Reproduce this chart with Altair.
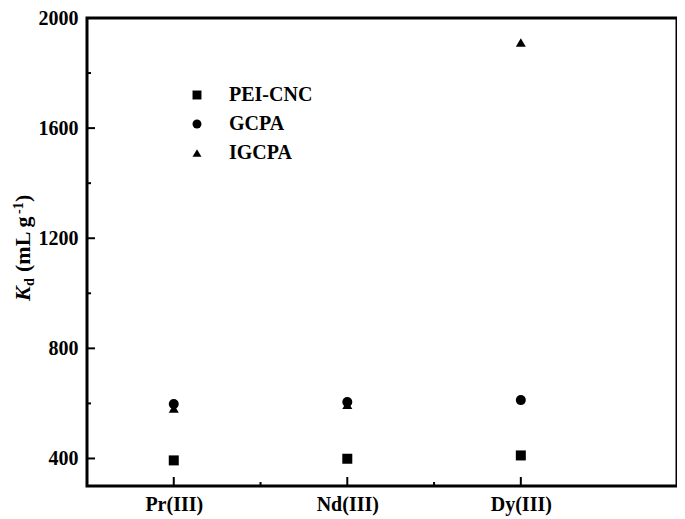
import altair as alt
import pandas as pd

# ---- data ----
elements = ["Pr(III)", "Nd(III)", "Dy(III)"]
positions = [1, 2, 3]
series_names = ["PEI-CNC", "GCPA", "IGCPA"]
pei_cnc = [393, 399, 411]
gcpa = [598, 605, 612]
igcpa = [582, 595, 1911]
y_major = [400, 800, 1200, 1600, 2000]
y_minor = [600, 1000, 1400, 1800]
x_minor = [1.5, 2.5]

rows = []
for name, vals in zip(series_names, [pei_cnc, gcpa, igcpa]):
    for el, p, v in zip(elements, positions, vals):
        rows.append({"element": el, "pos": p, "series": name, "value": v})
df = pd.DataFrame(rows)

W, H = 590, 468
FONT = "Liberation Serif"

label_expr = " : ".join(
    [f"datum.value == {p} ? '{e}'" for p, e in zip(positions[:-1], elements[:-1])]
) + f" : '{elements[-1]}'"

xscale = alt.Scale(domain=[0.5, 3.9], nice=False, zero=False)
yscale = alt.Scale(domain=[300, 2000], nice=False, zero=False)

xaxis = alt.Axis(values=positions, labelExpr=label_expr, ticks=False,
                 domain=False, grid=False, title=None, labelFont=FONT,
                 labelFontSize=20, labelFontWeight="bold",
                 labelColor="black", labelPadding=8, labelAngle=0)
yaxis = alt.Axis(values=y_major, ticks=False, domain=False, grid=False,
                 title=None, labelFont=FONT, labelFontSize=20,
                 labelFontWeight="bold", labelColor="black",
                 labelPadding=9, format="d")

points = alt.Chart(df).mark_point(filled=True, opacity=1, color="black", size=100).encode(
    x=alt.X("pos:Q", scale=xscale, axis=xaxis),
    y=alt.Y("value:Q", scale=yscale, axis=yaxis),
    shape=alt.Shape("series:N",
                    scale=alt.Scale(domain=series_names,
                                    range=["square", "circle", "triangle-up"]),
                    legend=alt.Legend(orient="none", legendX=100, legendY=67,
                                      title=None, labelFont=FONT, labelFontSize=20,
                                      labelFontWeight="bold", labelColor="black",
                                      symbolSize=80, symbolFillColor="black",
                                      symbolStrokeColor="black", symbolStrokeWidth=0,
                                      labelOffset=22, rowPadding=9, padding=0)),
)

ymaj = alt.Chart(pd.DataFrame({"value": y_major})).mark_rule(color="black", strokeWidth=2).encode(
    y=alt.Y("value:Q", scale=yscale, axis=yaxis), x=alt.value(0), x2=alt.value(8))
ymin = alt.Chart(pd.DataFrame({"value": y_minor})).mark_rule(color="black", strokeWidth=2).encode(
    y=alt.Y("value:Q", scale=yscale, axis=yaxis), x=alt.value(0), x2=alt.value(4))
xmaj = alt.Chart(pd.DataFrame({"pos": positions})).mark_rule(color="black", strokeWidth=2).encode(
    x=alt.X("pos:Q", scale=xscale, axis=xaxis), y=alt.value(H), y2=alt.value(H - 9))
xmin = alt.Chart(pd.DataFrame({"pos": x_minor})).mark_rule(color="black", strokeWidth=2).encode(
    x=alt.X("pos:Q", scale=xscale, axis=xaxis), y=alt.value(H), y2=alt.value(H - 4))


def title_piece(text, size, x, y, style="normal"):
    return alt.Chart(pd.DataFrame({"t": [text]})).mark_text(
        font=FONT, fontSize=size, fontWeight="bold", fontStyle=style,
        angle=270, align="left", baseline="alphabetic", color="black"
    ).encode(text="t:N", x=alt.value(x), y=alt.value(y))


bx = -57
title_layers = [
    title_piece("K", 22, bx, 283, "italic"),
    title_piece("d", 14, bx + 4, 268),
    title_piece("(mL g", 22, bx, 254),
    title_piece("-1", 14, bx - 7, 196),
    title_piece(")", 22, bx, 184),
]

chart = alt.layer(points, ymaj, ymin, xmaj, xmin, *title_layers).properties(
    width=W, height=H,
    autosize=alt.AutoSizeParams(type="none"),
    padding={"left": 79, "top": 10, "right": 0, "bottom": 32},
    background="white",
).configure_view(stroke="black", strokeWidth=3)

chart.save("out.html", embed_options={"renderer": "svg", "actions": False})
